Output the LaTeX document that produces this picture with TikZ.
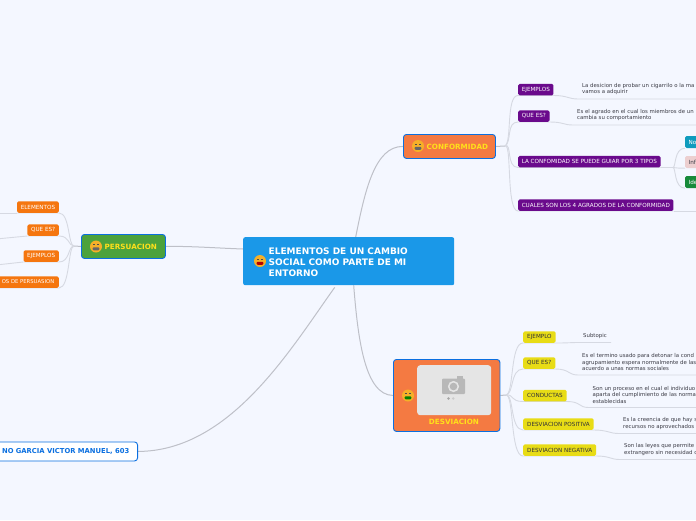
\documentclass[tikz,border=0pt]{standalone}
\usepackage{fontspec}
\setmainfont{DejaVu Sans}
\usetikzlibrary{calc,backgrounds}
\definecolor{paper}{RGB}{244,247,255}
\definecolor{sky}{RGB}{26,152,232}
\definecolor{edge}{RGB}{10,111,224}
\definecolor{carrot}{RGB}{244,122,66}
\definecolor{moss}{RGB}{76,162,60}
\definecolor{plum}{RGB}{106,10,140}
\definecolor{tangerine}{RGB}{245,118,15}
\definecolor{lemon}{RGB}{232,220,22}
\definecolor{gold}{RGB}{255,224,26}
\definecolor{wire}{RGB}{190,192,200}
\definecolor{twig}{RGB}{214,217,226}
\definecolor{ink}{RGB}{60,60,70}
\definecolor{sun}{RGB}{245,176,40}
\definecolor{teal}{RGB}{15,155,189}
\definecolor{blush}{RGB}{236,207,208}
\definecolor{fern}{RGB}{23,138,58}
\tikzset{
  root/.style={fill=sky,rounded corners=2pt,minimum width=211pt,minimum height=48pt,inner sep=0pt},
  topic/.style={draw=edge,fill=#1,line width=0.9pt,rounded corners=3pt,inner sep=0pt},
  topic/.default=carrot,
  toptext/.style={font=\fontsize{7.2}{8}\selectfont\bfseries,text=gold,inner sep=0pt},
  leaf/.style={fill=#1,text=white,rounded corners=1.5pt,minimum height=11.5pt,inner xsep=3.6pt,inner ysep=0pt,
    font=\fontsize{5.65}{6}\selectfont},
  leaf/.default=plum,
  ylw/.style={leaf=lemon,text=ink!80!black,inner xsep=4pt},
  desc/.style={text=ink,inner sep=4pt,align=left,anchor=south west,font=\fontsize{5.4}{6.6}\selectfont},
  kind/.style={fill=#1,rounded corners=1.5pt,anchor=west,minimum height=12pt,inner sep=0pt,
    text width=20pt,align=left,font=\fontsize{5.65}{6}\selectfont},
  main/.style={wire,line width=1pt},
  twigline/.style={twig,line width=0.9pt},
  % pictograms
  pics/face/.style={code={
    \fill[sun] (0,0) circle (6);
    \fill[black!70] (-3.4,-2.4) rectangle (-1,-1.2);
    \fill[black!70] (1,-2.4) rectangle (3.4,-1.2);
    \fill[#1,rounded corners=1pt] (-3.4,0.8) rectangle (3.4,3.8);
  }},
  pics/face/.default=black!60,
  pics/camera/.style={code={
    \fill[black!28,rounded corners=1pt] (-11.5,-7.5) rectangle (11.5,8);
    \fill[black!28] (3,-10) rectangle (9,-7);
    \fill[black!10] (0,0.5) circle (5.6);
    \fill[black!28] (0,0.5) circle (3.8);
    \fill[black!35] (-5,12.5) circle (1.4);
    \fill[black!20] (-0.3,12.5) circle (1.4);
  }},
}
\begin{document}
\begin{tikzpicture}[x=1pt,y=-1pt]
  \useasboundingbox (0,0) rectangle (696,520);
  \begin{scope}[on background layer]
    \fill[paper] (0,0) rectangle (696,520);
  \end{scope}
  \clip (0,0) rectangle (696,520);

  % centre
  \node[root,anchor=north west] (centre) at (243,237) {};
  \pic at (260,261) {face=red!70!black};
  \node[anchor=west,inner sep=0pt,align=left,text=white,font=\fontsize{9}{11}\selectfont\bfseries] (title) at (268.5,262)
    {ELEMENTOS DE UN CAMBIO\\SOCIAL COMO PARTE DE MI\\ENTORNO};

  % main topics
  \node[topic,anchor=north west,minimum width=92pt,minimum height=24pt] (conf) at (403,134) {};
  \pic at (418,146) {face};
  \node[toptext,anchor=west] (conftext) at (426.5,146.5) {CONFORMIDAD};

  \node[topic=moss,anchor=north west,minimum width=84pt,minimum height=24pt] (pers) at (81,234) {};
  \pic at (96,246.5) {face};
  \node[toptext,anchor=west] (perstext) at (104.5,246.5) {PERSUACION};

  \node[topic,anchor=north west,minimum width=106.5pt,minimum height=72pt] (desv) at (393,359) {};
  \node[fill=black!10,rounded corners=3pt,anchor=north west,minimum width=74pt,minimum height=50pt,inner sep=0pt] (photo) at (417,365) {};
  \pic at (453.5,386) {camera};
  \pic at (408,395.5) {face=green!50!black};
  \node[toptext,anchor=center] (desvtext) at (454,421.5) {DESVIACION};

  \node[draw=edge,fill=white,line width=0.9pt,rounded corners=3pt,anchor=north east,minimum width=150pt,minimum height=19pt,
    inner sep=0pt] (autor) at (138,441.5) {};
  \node[anchor=east,inner sep=0pt,text=edge,font=\fontsize{6.8}{8}\selectfont\bfseries] (autortext) at (129.5,451.5) {NO GARCIA VICTOR MANUEL, 603};

  % conformidad
  \coordinate (confhub) at (505,146);
  \node[leaf,anchor=south west] (c1) at (518,95.5) {EJEMPLOS};
  \node[leaf,anchor=south west] (c2) at (518,122) {QUE ES?};
  \node[leaf,anchor=south west] (c3) at (518,167.5) {LA CONFOMIDAD SE PUEDE GUIAR POR 3 TIPOS};
  \node[leaf,anchor=south west] (c4) at (518,211) {CUALES SON LOS 4 AGRADOS DE LA CONFORMIDAD};
  \node[desc] (c1t) at (578,99) {La desicion de probar un cigarrilo o la ma\\vamos a adquirir};
  \node[desc] (c2t) at (573,125) {Es el agrado en el cual los miembros de un\\cambia su comportamiento};
  \node[kind=teal,text=white] (k1) at (685,142) {\hspace*{3.5pt}No};
  \node[kind=blush,text=ink] (k2) at (685,162) {\hspace*{3.5pt}Inf};
  \node[kind=fern,text=white] (k3) at (685,182) {\hspace*{3.5pt}Ide};
  \coordinate (c1e) at (700,99);
  \coordinate (c2e) at (700,125);
  \coordinate (c4e) at (700,211);
  \coordinate (c3m) at (673,167.5);

  % desviacion
  \coordinate (desvhub) at (506,395);
  \node[ylw,anchor=south west] (d1) at (523,343) {EJEMPLO};
  \node[ylw,anchor=south west] (d2) at (523,369) {QUE ES?};
  \node[ylw,anchor=south west] (d3) at (523,401.5) {CONDUCTAS};
  \node[ylw,anchor=south west] (d4) at (523,430) {DESVIACION POSITIVA};
  \node[ylw,anchor=south west] (d5) at (523,456) {DESVIACION NEGATIVA};
  \node[desc] (d1t) at (579,342.5) {Subtopic};
  \node[desc] (d2t) at (578,375) {Es el termino usado para detonar la cond\\agrupamiento espera normalmente de las\\acuerdo a unas normas sociales};
  \node[desc] (d3t) at (588.5,407.5) {Son un proceso en el cual el individuo\\aparta del cumplimiento de las normas\\establecidas};
  \node[desc] (d4t) at (619,433.5) {Es la creencia de que hay s\\recursos no aprovechados};
  \node[desc] (d5t) at (620,459.5) {Son las leyes que permite i\\extrangero sin necesidad d};
  \coordinate (d1e) at (611,342.5);
  \coordinate (d2e) at (700,375);
  \coordinate (d3e) at (700,407.5);
  \coordinate (d4e) at (700,433.5);
  \coordinate (d5e) at (700,459.5);

  % persuacion
  \coordinate (pershub) at (74,246);
  \node[leaf=tangerine,anchor=south east] (p1) at (59,213) {ELEMENTOS};
  \node[leaf=tangerine,anchor=south east] (p2) at (59,236) {QUE ES?};
  \node[leaf=tangerine,anchor=south east] (p3) at (59,262) {EJEMPLOS};
  \node[leaf=tangerine,anchor=south east,font=\fontsize{5.3}{6}\selectfont,inner xsep=4.5pt] (p4) at (59,288) {OS DE PERSUASION};
  \coordinate (p1e) at (-4,213);
  \coordinate (p2e) at (-4,239);
  \coordinate (p3e) at (-4,265);

  \begin{scope}[on background layer]
    \draw[main] ($(centre.north)+(7,0)$) .. controls (365,190) and (375,146) .. (conf.west);
    \draw[main] (centre.west |- 0,249) .. controls (215,248) and (190,246) .. (pers.east);
    \draw[main] ($(centre.south)+(5,0)$) .. controls (358,340) and (365,395) .. (desv.west);
    \draw[main] ($(centre.south)+(-14,2)$) .. controls (290,350) and (230,451) .. (autor.east);
    \draw[main] (conf.east) -- (confhub);
    \draw[main] (desv.east) -- (desvhub);
    \draw[main] (pers.west) -- (pershub);
    % branches
    \foreach \b in {c1,c2,c3,c4}
      \draw[twigline] (confhub) .. controls ($(confhub)+(7,-4)$) and ($(\b.south west)+(-12,0)$) .. (\b.south west) -- (\b.south east);
    \foreach \b in {d1,d2,d3,d4,d5}
      \draw[twigline] (desvhub) .. controls ($(desvhub)+(8,-1)$) and ($(\b.south west)+(-13,0)$) .. (\b.south west) -- (\b.south east);
    \foreach \b in {p1,p2,p3,p4}
      \draw[twigline] (pershub) .. controls ($(pershub)+(-6,0)$) and ($(\b.south east)+(11,0)$) .. (\b.south east) -- (\b.south west);
    \foreach \b/\t/\e in {c1/c1t/c1e,c2/c2t/c2e,d1/d1t/d1e,d2/d2t/d2e,d3/d3t/d3e,d4/d4t/d4e,d5/d5t/d5e}
      \draw[twigline] (\b.south east) .. controls ($(\b.south east)+(14,0)$) and ($(\t.south west)+(-10,0)$) .. (\t.south west) -- (\e);
    \draw[twigline] (c4.south east) -- (c4e);
    \draw[twigline] (c3.south east) -- (c3m);
    \foreach \k in {k1,k2,k3}
      \draw[twigline] (c3m) .. controls ($(c3m)+(3,0)$) and ($(\k.south west)+(-11,0)$) .. (\k.south west);
    \draw[twigline] (p2.south west) -- (p2e);
    \draw[twigline] (p1.south west) -- (p1e);
    \draw[twigline] (p3.south west) -- (p3e);
  \end{scope}
\end{tikzpicture}
\end{document}
